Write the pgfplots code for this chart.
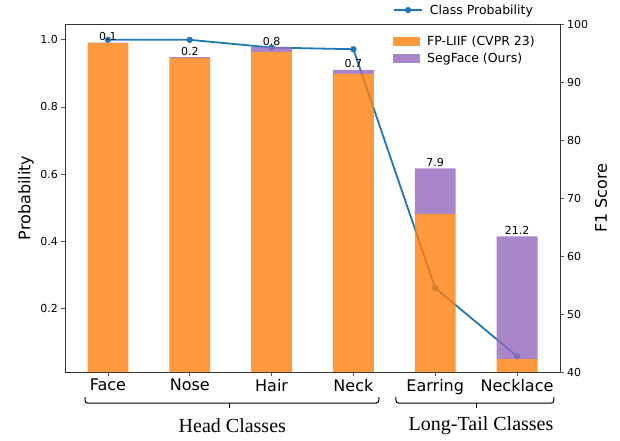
\documentclass[border=0pt]{standalone}
\usepackage{pgfplots}
\pgfplotsset{compat=1.18}
\usepackage{fontspec}
\setmainfont{DejaVu Sans}
\newfontfamily\timesfont{Liberation Serif}
\definecolor{tabblue}{RGB}{31,119,180}
\definecolor{taborange}{RGB}{255,127,14}
\definecolor{tabpurple}{RGB}{148,103,189}
\begin{document}
\begin{tikzpicture}
\path[use as bounding box] (-65pt,-68pt) rectangle (555pt,372pt);
\pgfplotsset{
  common/.style={
    width=495pt, height=348pt, scale only axis,
    at={(0pt,0pt)}, anchor=south west,
    xmin=-0.525, xmax=5.525,
    axis line style={black!80, line width=0.8pt},
    tick style={black!65, line width=0.7pt},
    major tick length=3.5pt, tick align=outside,
    /pgf/number format/assume math mode=true,
    yticklabel style={font=\fontsize{11}{13}\selectfont},
  }
}
\begin{axis}[common,
  clip=false,
  ymin=0.0098, ymax=1.0472,
  ytick={0.2,0.4,0.6,0.8,1.0},
  yticklabel style={/pgf/number format/.cd, fixed, fixed zerofill, precision=1},
  xtick={0,1,2,3,4,5},
  xticklabels={Face,Nose,Hair,Neck,Earring,Necklace},
  xticklabel style={font=\fontsize{16}{19}\selectfont},
  xtick pos=left, ytick pos=left,
  ylabel={Probability},
  ylabel style={font=\fontsize{16}{19}\selectfont, xshift=0pt},
  legend style={draw=none, fill=none, at={(0.6626,1.04)}, anchor=west,
    font=\fontsize{12.5}{15}\selectfont, inner sep=0pt, column sep=5pt,
    nodes={inner sep=2pt}},
  legend image code/.code={\draw[mark repeat=2,mark phase=2,#1] plot coordinates {(0pt,0pt) (14pt,0pt) (28pt,0pt)};},
]
\addplot[tabblue, line width=1.8pt, mark=*, mark size=2.2pt, mark options={solid}]
  coordinates {(0,1.0) (1,1.0) (2,0.977) (3,0.972) (4,0.26) (5,0.057)};
\addlegendentry{Class Probability}
% group braces
\draw[line width=1pt, rounded corners=2.5pt]
  ([yshift=-25pt]axis cs:-0.28,0.0098) |- ([yshift=-31pt]axis cs:1.48,0.0098)
  -| ([yshift=-25pt]axis cs:3.31,0.0098);
\draw[line width=1pt] ([yshift=-31pt]axis cs:1.48,0.0098) -- ([yshift=-36pt]axis cs:1.48,0.0098);
\draw[line width=1pt, rounded corners=2.5pt]
  ([yshift=-25pt]axis cs:3.52,0.0098) |- ([yshift=-31pt]axis cs:4.50,0.0098)
  -| ([yshift=-25pt]axis cs:5.45,0.0098);
\draw[line width=1pt] ([yshift=-31pt]axis cs:4.50,0.0098) -- ([yshift=-36pt]axis cs:4.50,0.0098);
\node[font=\timesfont\fontsize{20}{24}\selectfont] at ([yshift=-54pt]axis cs:1.52,0.0098) {Head Classes};
\node[font=\timesfont\fontsize{20}{24}\selectfont] at ([yshift=-54pt]axis cs:4.56,0.0098) {Long-Tail Classes};
\end{axis}
\begin{axis}[common,
  ymin=40, ymax=100,
  ytick={40,50,60,70,80,90,100},
  axis y line*=right, axis x line=none,
  ylabel near ticks, yticklabel pos=right,
  ylabel={F1 Score},
  ylabel style={font=\fontsize{16}{19}\selectfont},
  ybar stacked, bar width=0.5,
  legend style={draw=none, fill=none, at={(0.6626,0.925)}, anchor=west,
    font=\fontsize{12.5}{15}\selectfont, inner sep=0pt, column sep=5pt, row sep=1.5pt,
    nodes={inner sep=2pt}},
  legend image code/.code={\fill[#1] (0pt,-4.5pt) rectangle (27pt,4.5pt);},
  legend cell align=left,
]
\addplot[fill=taborange, fill opacity=0.8, draw=none]
  coordinates {(0,96.7) (1,94.1) (2,95.2) (3,91.4) (4,67.2) (5,42.2)};
\addlegendentry{FP-LIIF (CVPR 23)}
\addplot[fill=tabpurple, fill opacity=0.8, draw=none]
  coordinates {(0,0.1) (1,0.2) (2,0.8) (3,0.7) (4,7.9) (5,21.2)};
\addlegendentry{SegFace (Ours)}
\end{axis}
\begin{axis}[common, hide axis, ymin=40, ymax=100]
\addplot[draw=none, mark=none, nodes near coords, point meta=explicit symbolic,
  every node near coord/.append style={font=\fontsize{11}{13}\selectfont, text=black, anchor=south, inner sep=1.5pt}]
  coordinates {(0,96.8) [0.1] (1,94.3) [0.2] (2,96.0) [0.8] (3,92.1) [0.7] (4,75.1) [7.9] (5,63.4) [21.2]};
\end{axis}
\end{tikzpicture}
\end{document}
